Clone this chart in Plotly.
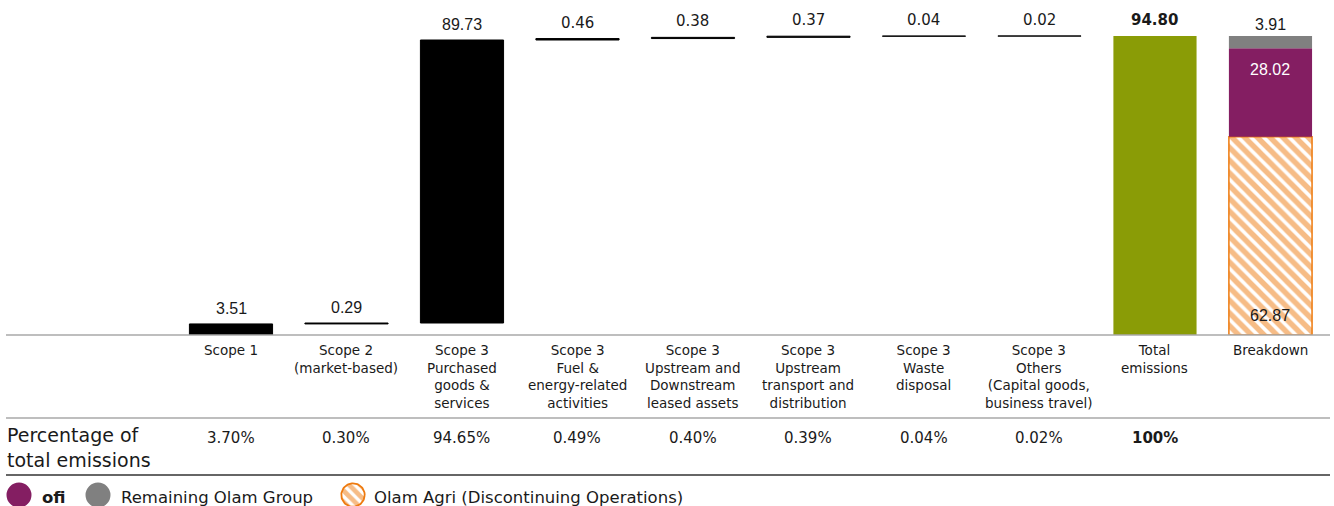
import numpy as np
import plotly.graph_objects as go

# ---- data -------------------------------------------------------------
categories = [
    "Scope 1",
    "Scope 2<br>(market-based)",
    "Scope 3<br>Purchased<br>goods &<br>services",
    "Scope 3<br>Fuel &<br>energy-related<br>activities",
    "Scope 3<br>Upstream and<br>Downstream<br>leased assets",
    "Scope 3<br>Upstream<br>transport and<br>distribution",
    "Scope 3<br>Waste<br>disposal",
    "Scope 3<br>Others<br>(Capital goods,<br>business travel)",
    "Total<br>emissions",
    "Breakdown",
]
step_values = [3.51, 0.29, 89.73, 0.46, 0.38, 0.37, 0.04, 0.02]
total_value = 94.80
percentages = ["3.70%", "0.30%", "94.65%", "0.49%", "0.40%", "0.39%",
               "0.04%", "0.02%", "100%"]
breakdown_names = ["Olam Agri (Discontinuing Operations)", "ofi",
                   "Remaining Olam Group"]
breakdown_values = [62.87, 28.02, 3.91]

# ---- styling ----------------------------------------------------------
W, H = 1334, 506
BLACK = "#000000"
OLIVE = "#8A9C06"
PURPLE = "#841E62"
GREY = "#808080"
ORANGE = "#EE7A0E"
TEXT = "#1a1a1a"
GEO = "'DejaVu Sans', 'Open Sans', sans-serif"
ARIAL = "'Liberation Sans', Arial, sans-serif"
BAR_W = 0.72

n_steps = len(step_values)
step_x = list(range(n_steps))
step_base = list(np.concatenate([[0], np.cumsum(step_values)[:-1]]))
total_x = n_steps
breakdown_x = n_steps + 1

fig = go.Figure()

# waterfall steps
fig.add_trace(go.Bar(
    x=step_x, y=step_values, base=step_base, width=BAR_W,
    marker=dict(color=BLACK, line=dict(color=BLACK, width=1)),
    showlegend=False, hoverinfo="skip"))

# total
fig.add_trace(go.Bar(
    x=[total_x], y=[total_value], width=BAR_W,
    marker=dict(color=OLIVE, line=dict(width=0)),
    showlegend=False, hoverinfo="skip"))

# breakdown stack
bd_base = list(np.concatenate([[0], np.cumsum(breakdown_values)[:-1]]))
bd_styles = [
    dict(color="white",
         pattern=dict(shape="\\", fgcolor=ORANGE, bgcolor="white",
                      size=9, solidity=0.6),
         line=dict(color=ORANGE, width=1.5)),
    dict(color=PURPLE, line=dict(width=0)),
    dict(color=GREY, line=dict(width=0)),
]
for v, b, st, name in zip(breakdown_values, bd_base, bd_styles, breakdown_names):
    fig.add_trace(go.Bar(x=[breakdown_x], y=[v], base=[b], width=BAR_W,
                         marker=st, name=name, showlegend=False,
                         hoverinfo="skip"))

annotations = []

# value labels above the waterfall steps
step_fonts = [ARIAL, ARIAL, ARIAL, GEO, GEO, GEO, GEO, GEO]
for x, v, b, f in zip(step_x, step_values, step_base, step_fonts):
    annotations.append(dict(
        x=x, y=b + v, xref="x", yref="y", text=f"{v:.2f}",
        showarrow=False, yanchor="bottom", yshift=5,
        font=dict(family=f, size=16 if f == ARIAL else 15, color=TEXT)))

annotations.append(dict(
    x=total_x, y=total_value, xref="x", yref="y",
    text=f"<b>{total_value:.2f}</b>", showarrow=False, yanchor="bottom",
    yshift=5, font=dict(family=GEO, size=15, color=TEXT)))

# breakdown labels
bd_top = bd_base[-1] + breakdown_values[-1]
annotations.append(dict(
    x=breakdown_x, y=bd_top, xref="x", yref="y",
    text=f"{breakdown_values[2]:.2f}", showarrow=False, yanchor="bottom",
    yshift=1, font=dict(family=ARIAL, size=16, color=TEXT)))
annotations.append(dict(
    x=breakdown_x, y=bd_base[1] + breakdown_values[1], xref="x", yref="y",
    text=f"{breakdown_values[1]:.2f}", showarrow=False, yanchor="top",
    yshift=-11, font=dict(family=ARIAL, size=16, color="white")))
annotations.append(dict(
    x=breakdown_x, y=0, xref="x", yref="y",
    text=f"{breakdown_values[0]:.2f}", showarrow=False, yanchor="bottom",
    yshift=9, font=dict(family=ARIAL, size=16, color=TEXT)))

# category labels and percentage row (pixel overlay axes x2/y2)
for i, lab in enumerate(categories):
    annotations.append(dict(
        x=i, y=340, xref="x", yref="y2", text=lab, showarrow=False,
        yanchor="top", align="center",
        font=dict(family=GEO, size=13.5, color=TEXT)))
for i, p in enumerate(percentages):
    txt = f"<b>{p}</b>" if i == len(percentages) - 1 else p
    annotations.append(dict(
        x=i, y=438, xref="x", yref="y2", text=txt, showarrow=False,
        yanchor="middle", font=dict(family=GEO, size=15, color=TEXT)))

annotations.append(dict(
    x=5, y=447, xref="x2", yref="y2", text="Percentage of<br>total emissions",
    showarrow=False, xanchor="left", yanchor="middle", align="left",
    font=dict(family=GEO, size=19, color=TEXT)))

# legend
legend_items = [
    (19, 40, "<b>ofi</b>", PURPLE),
    (98, 119, "Remaining Olam Group", GREY),
    (353, 372, "Olam Agri (Discontinuing Operations)", None),
]
shapes = []
R = 12.5
CY = 495
for cx, tx, label, col in legend_items:
    if col is not None:
        shapes.append(dict(type="circle", xref="x2", yref="y2",
                           x0=cx - R, x1=cx + R, y0=CY - R, y1=CY + R,
                           fillcolor=col, line=dict(width=0)))
    annotations.append(dict(
        x=tx, y=497, xref="x2", yref="y2", text=label, showarrow=False,
        xanchor="left", yanchor="middle",
        font=dict(family=GEO, size=16.5, color=TEXT)))

# hatched legend swatch
theta = np.linspace(0, 2 * np.pi, 80)
fig.add_trace(go.Scatter(
    x=353 + (R - 0.8) * np.cos(theta), y=CY + (R - 0.8) * np.sin(theta),
    xaxis="x2", yaxis="y2", mode="lines", fill="toself",
    fillcolor="white",
    fillpattern=dict(shape="\\", fgcolor=ORANGE, bgcolor="white",
                     size=8, solidity=0.6),
    line=dict(color=ORANGE, width=1.8), showlegend=False, hoverinfo="skip"))

# rule lines
for y, col, w in [(335, "#a8a8a8", 1.5), (418, "#a8a8a8", 1.5),
                  (475, "#666666", 2)]:
    shapes.append(dict(type="line", xref="x2", yref="y2", x0=6, x1=1330,
                       y0=y, y1=y, line=dict(color=col, width=w)))

plot_h = 335
y_top = total_value * plot_h / 299

fig.update_layout(
    width=W, height=H,
    margin=dict(l=0, r=0, t=0, b=0),
    paper_bgcolor="white", plot_bgcolor="rgba(0,0,0,0)",
    barmode="overlay",
    xaxis=dict(range=[-2.0, 9.55], visible=False, fixedrange=True),
    yaxis=dict(range=[0, y_top], domain=[1 - plot_h / H, 1], visible=False,
               fixedrange=True),
    xaxis2=dict(range=[0, W], overlaying="x", visible=False,
                fixedrange=True),
    yaxis2=dict(range=[H, 0], domain=[0, 1], anchor="x2", visible=False,
                fixedrange=True),
    annotations=annotations,
    shapes=shapes,
    showlegend=False,
)

fig.write_html("out.html", config={"displayModeBar": False})
